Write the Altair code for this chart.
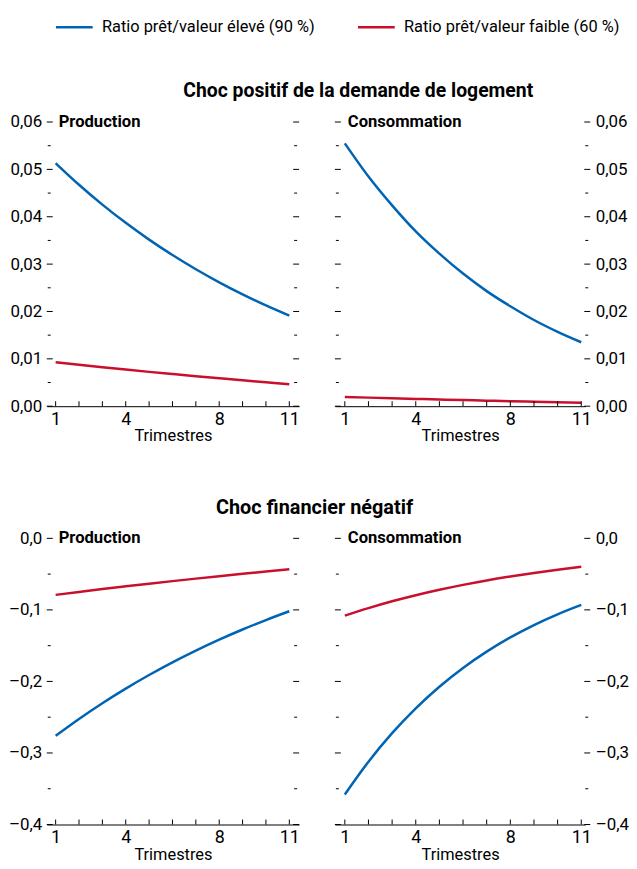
import altair as alt
import pandas as pd

FONT = "Roboto, Liberation Sans, sans-serif"
BLUE = "#0064b4"
RED = "#c8102e"

quarters = list(range(1, 12))
series_names = ["Ratio prêt/valeur élevé (90 %)", "Ratio prêt/valeur faible (60 %)"]

# Choc positif de la demande de logement
dem_prod_high = [0.0513, 0.04675, 0.04256, 0.03871, 0.03517, 0.03191, 0.02891, 0.02615, 0.02361, 0.02127, 0.01912]
dem_prod_low = [0.00930, 0.00875, 0.00823, 0.00773, 0.00725, 0.00679, 0.00634, 0.00590, 0.00547, 0.00505, 0.00463]
dem_cons_high = [0.0555, 0.0485, 0.0424, 0.0369, 0.0322, 0.0280, 0.0243, 0.0211, 0.0182, 0.0157, 0.0135]
dem_cons_low = [0.00196, 0.00181, 0.00167, 0.00154, 0.00141, 0.00129, 0.00117, 0.00105, 0.00094, 0.00083, 0.00072]

# Choc financier négatif
fin_prod_high = [-0.2760, -0.2524, -0.2304, -0.2100, -0.1910, -0.1733, -0.1569, -0.1416, -0.1274, -0.1142, -0.1019]
fin_prod_low = [-0.0790, -0.0749, -0.0709, -0.0671, -0.0634, -0.0598, -0.0563, -0.0529, -0.0496, -0.0464, -0.0433]
fin_cons_high = [-0.3580, -0.3122, -0.2723, -0.2376, -0.2074, -0.1812, -0.1584, -0.1385, -0.1212, -0.1062, -0.0931]
fin_cons_low = [-0.1080, -0.0975, -0.0880, -0.0795, -0.0719, -0.0650, -0.0588, -0.0533, -0.0483, -0.0438, -0.0398]

top_major = [0.0, 0.01, 0.02, 0.03, 0.04, 0.05, 0.06]
top_minor = [0.005, 0.015, 0.025, 0.035, 0.045, 0.055]
bot_major = [-0.4, -0.3, -0.2, -0.1, 0.0]
bot_minor = [-0.35, -0.25, -0.15, -0.05]
x_label_values = [1, 4, 8, 11]

top_expr = "replace(format(datum.value, '.2f'), '.', ',')"
bot_expr = ("replace(replace(replace(format(datum.value, '.1f'), '.', ','), '\u2212', '\u2013'), '-', '\u2013')")

LEFT_W = 254
RIGHT_W = 252


def panel(high, low, name, side, ydom, major, minor, expr, height):
    if side == "left":
        xdom, W, name_dx = [0.62, 11.42], LEFT_W, 12
    else:
        xdom, W, name_dx = [0.58, 11.17], RIGHT_W, 13
    df = pd.DataFrame({
        "t": quarters * 2,
        "v": high + low,
        "s": [series_names[0]] * 11 + [series_names[1]] * 11,
    })
    xscale = alt.Scale(domain=xdom, nice=False, zero=False)
    yscale = alt.Scale(domain=ydom, nice=False, zero=False)
    xenc = alt.X("t:Q", scale=xscale, axis=alt.Axis(
        values=x_label_values, title="Trimestres", ticks=False, tickSize=0,
        domain=True, domainColor="black", domainWidth=1, grid=False,
        labelPadding=4, labelFontSize=18, labelFont=FONT, labelColor="black",
        titleFontSize=16.5, titleFont=FONT, titleFontWeight="normal", titleColor="black",
        titlePadding=0, labelFlush=False))
    yenc = alt.Y("v:Q", scale=yscale, axis=alt.Axis(
        orient=side, values=major, labelExpr=expr, ticks=False, tickSize=0,
        domain=False, grid=False, title=None,
        labelPadding=5 if side == "left" else 10,
        labelFontSize=17, labelFont=FONT, labelColor="black"))

    lines = alt.Chart(df).mark_line(strokeWidth=2.5, interpolate="monotone").encode(
        x=xenc, y=yenc,
        color=alt.Color("s:N", scale=alt.Scale(domain=series_names, range=[BLUE, RED]),
                        legend=alt.Legend(
                            title=None, orient="none", legendX=8, legendY=-106,
                            direction="horizontal", columns=2, columnPadding=38,
                            symbolType="M-1,0H3", symbolSize=342, symbolStrokeWidth=2.5,
                            labelFontSize=16.5, labelFont=FONT, labelColor="black",
                            labelOffset=26.5, labelLimit=400, padding=0)),
    )

    xt = pd.DataFrame({"t": quarters})
    xticks = alt.Chart(xt).mark_rule(color="black", strokeWidth=1).encode(
        x=alt.X("t:Q"), y=alt.value(height), y2=alt.value(height - 5))

    ymaj = pd.DataFrame({"v": major})
    ymin = pd.DataFrame({"v": minor})
    if side == "left":
        lm, rm = (0, 6), (W - 6, W)
        ln, rn = (1, 4), (W - 5, W - 2)
    else:
        lm, rm = (0, 6), (W - 1, W + 5)
        ln, rn = (1, 4), (W, W + 3)
    tick_layers = []
    for d, (a, b) in [(ymaj, lm), (ymaj, rm), (ymin, ln), (ymin, rn)]:
        tick_layers.append(alt.Chart(d).mark_rule(color="black", strokeWidth=1).encode(
            y=alt.Y("v:Q"), x=alt.value(a), x2=alt.value(b)))

    label = alt.Chart(pd.DataFrame({"n": [name]})).mark_text(
        align="left", baseline="middle", font=FONT, fontSize=16.7, fontWeight="bold",
        color="black").encode(text="n:N", x=alt.value(name_dx), y=alt.value(0))

    return alt.layer(lines, xticks, *tick_layers, label).properties(width=W, height=height)


TOP_H = 286
BOT_H = 288

row1 = alt.hconcat(
    panel(dem_prod_high, dem_prod_low, "Production", "left", [0, 0.06], top_major, top_minor, top_expr, TOP_H),
    panel(dem_cons_high, dem_cons_low, "Consommation", "right", [0, 0.06], top_major, top_minor, top_expr, TOP_H),
    spacing=34,
    title=alt.TitleParams("Choc positif de la demande de logement", font=FONT, fontSize=19.5,
                          fontWeight="bold", anchor="middle", dx=40, offset=12, color="black"),
)
row2 = alt.hconcat(
    panel(fin_prod_high, fin_prod_low, "Production", "left", [-0.4, 0], bot_major, bot_minor, bot_expr, BOT_H),
    panel(fin_cons_high, fin_cons_low, "Consommation", "right", [-0.4, 0], bot_major, bot_minor, bot_expr, BOT_H),
    spacing=34,
    title=alt.TitleParams("Choc financier négatif", font=FONT, fontSize=20,
                          fontWeight="bold", anchor="middle", dx=-4, offset=12, color="black"),
)

chart = alt.vconcat(row1, row2, spacing=53).properties(
    padding={"left": 0, "top": 6, "right": 0, "bottom": 0}
).configure_view(stroke=None)

chart.save("out.html", embed_options={"renderer": "svg", "actions": False})
